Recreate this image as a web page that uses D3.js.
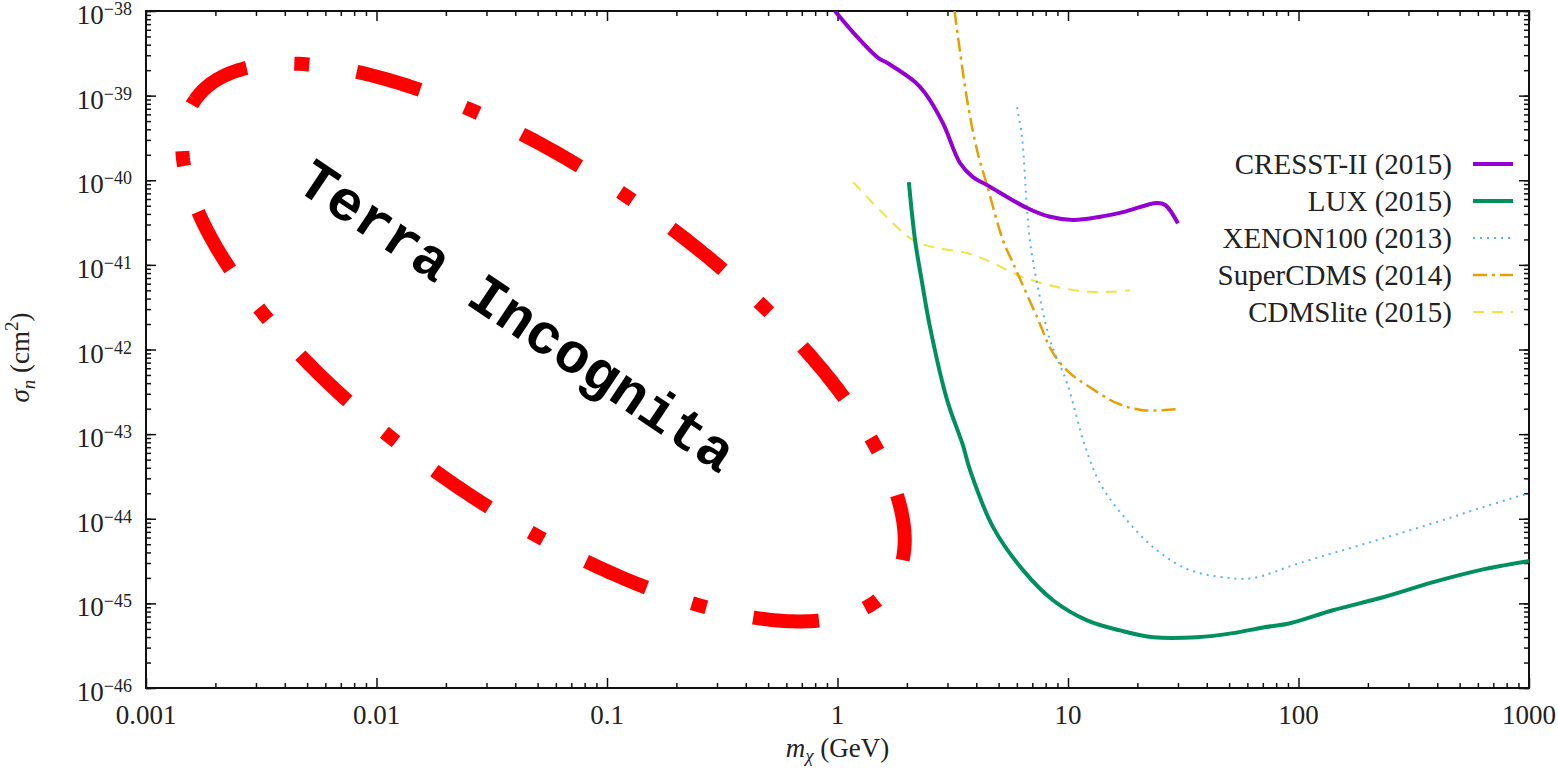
<!DOCTYPE html>
<meta charset="utf-8">
<style>
body { margin: 0; background: #fff; }
text { font-family: "Liberation Serif", "DejaVu Serif", serif; fill: #222; }
.axis path { display: none; }
.axis line { stroke: #111; stroke-width: 1.5; }
.frame { fill: none; stroke: #111; stroke-width: 2; }
</style>
<body>
<script src="https://d3js.org/d3.v7.min.js"></script>
<script>

// ---- data (mass in GeV, cross-section in cm^2) ----
var cresstMass  = [0.975, 1.22, 1.50, 1.66, 2.17, 2.40, 2.87, 3.40, 3.87, 4.45, 6.64, 8.36, 10.5, 13.8, 17.3, 24.3, 26.4, 30.0];
var cresstSigma = [1.0e-38, 4.9e-39, 2.8e-39, 2.4e-39, 1.45e-39, 1.07e-39, 4.7e-40, 1.6e-40, 1.09e-40, 8.8e-41, 4.7e-41, 3.7e-41, 3.4e-41, 3.7e-41, 4.2e-41, 5.4e-41, 5.1e-41, 3.1e-41];

var luxMass  = [2.04, 2.17, 2.33, 2.52, 2.99, 3.50, 3.76, 4.73, 6.38, 8.61, 12.1, 16.8, 23.4, 36.3, 52.0, 70.2, 91.9, 141, 233, 384, 613, 1000];
var luxSigma = [9.5e-41, 1.96e-41, 6.1e-42, 1.84e-42, 2.52e-43, 7.4e-44, 3.75e-44, 7.96e-45, 2.47e-45, 1.09e-45, 6.3e-46, 4.8e-46, 3.98e-46, 3.98e-46, 4.45e-46, 5.2e-46, 5.83e-46, 8.3e-46, 1.18e-45, 1.78e-45, 2.47e-45, 3.16e-45];

var xenonMass  = [6.01, 6.31, 6.64, 6.84, 7.34, 8.36, 9.91, 11.9, 13.8, 18.0, 24.3, 33.8, 50.5, 63.5, 101, 198, 384, 631, 1000];
var xenonSigma = [7.3e-40, 3.3e-40, 4.6e-41, 1.9e-41, 6.1e-42, 1.29e-42, 4.0e-43, 7.0e-44, 2.6e-44, 9.6e-45, 4.25e-45, 2.47e-45, 1.99e-45, 1.99e-45, 2.99e-45, 5.15e-45, 8.87e-45, 1.37e-44, 2.01e-44];

var superMass  = [3.22, 3.65, 4.03, 4.45, 5.22, 5.77, 7.34, 8.61, 10.2, 12.4, 16.3, 21.1, 30.0];
var superSigma = [1.0e-38, 8.9e-40, 2.28e-40, 8.8e-41, 1.96e-41, 1.05e-41, 2.42e-42, 9.06e-43, 5.26e-43, 3.6e-43, 2.32e-43, 1.92e-43, 1.98e-43];

var liteMass  = [1.17, 1.57, 2.13, 2.70, 3.65, 4.73, 6.01, 7.34, 9.51, 12.4, 15.2, 18.6];
var liteSigma = [9.5e-41, 4.1e-41, 1.96e-41, 1.58e-41, 1.38e-41, 1.05e-41, 7.6e-42, 6.3e-42, 5.3e-42, 4.8e-42, 4.8e-42, 5.0e-42];

var seriesNames = ["CRESST-II (2015)", "LUX (2015)", "XENON100 (2013)", "SuperCDMS (2014)", "CDMSlite (2015)"];

var xTicks = [0.001, 0.01, 0.1, 1, 10, 100, 1000];
var xTickLabels = ["0.001", "0.01", "0.1", "1", "10", "100", "1000"];
var yTickExps = [-38, -39, -40, -41, -42, -43, -44, -45, -46];

// "Terra Incognita" annotation: ellipse centre, end of major axis, end of minor axis
var blobCentre = [0.053, 1.21e-42];
var blobMajor  = [1.72, 1.64e-45];
var blobMinor  = [0.138, 5.1e-41];
var blobLabel  = "Terra Incognita";
var blobLabelAt = [0.040, 2.3e-42];

// ---- styles ----
var seriesStyle = [
  {color: "#9400d3", width: 4,   dash: null},
  {color: "#00905f", width: 4,   dash: null},
  {color: "#56b4e9", width: 2,   dash: "2,5"},
  {color: "#e69f00", width: 2.5, dash: "14,5,3,5"},
  {color: "#f0e442", width: 2,   dash: "11,8"}
];

var width = 1558, height = 768;
var margin = {top: 11, right: 29, bottom: 80, left: 146};

var x = d3.scaleLog().domain([1e-3, 1e3]).range([margin.left, width - margin.right]);
var y = d3.scaleLog().domain([1e-46, 1e-38]).range([height - margin.bottom, margin.top]);

var svg = d3.select("body").append("svg")
    .attr("width", width)
    .attr("height", height);

svg.append("clipPath").attr("id", "plotclip")
  .append("rect")
    .attr("x", margin.left).attr("y", margin.top)
    .attr("width", width - margin.left - margin.right)
    .attr("height", height - margin.top - margin.bottom);

// ticks, all pointing inward
var yMajor = yTickExps.map(function(e) { return Math.pow(10, e); });
var xMinor = x.ticks().filter(function(v) { return xTicks.indexOf(v) < 0; });
var yMinor = y.ticks();

function addAxis(axisFn, scale, vals, size, tx, ty) {
  svg.append("g").attr("class", "axis")
    .attr("transform", "translate(" + tx + "," + ty + ")")
    .call(axisFn(scale).tickValues(vals).tickSize(-size).tickFormat(""));
}
var bottomY = height - margin.bottom, rightX = width - margin.right;
addAxis(d3.axisBottom, x, xTicks, 10, 0, bottomY);
addAxis(d3.axisBottom, x, xMinor, 5, 0, bottomY);
addAxis(d3.axisTop, x, xTicks, 10, 0, margin.top);
addAxis(d3.axisTop, x, xMinor, 5, 0, margin.top);
addAxis(d3.axisLeft, y, yMajor, 10, margin.left, 0);
addAxis(d3.axisLeft, y, yMinor, 5, margin.left, 0);
addAxis(d3.axisRight, y, yMajor, 10, rightX, 0);
addAxis(d3.axisRight, y, yMinor, 5, rightX, 0);

svg.append("rect").attr("class", "frame")
  .attr("x", margin.left).attr("y", margin.top)
  .attr("width", rightX - margin.left)
  .attr("height", bottomY - margin.top);

// tick labels
svg.selectAll(".xlab").data(xTicks).enter().append("text")
  .attr("class", "xlab")
  .attr("x", function(d) { return x(d); })
  .attr("y", bottomY + 36)
  .attr("text-anchor", "middle")
  .style("font-size", "27px")
  .text(function(d, i) { return xTickLabels[i]; });

var ylab = svg.selectAll(".ylab").data(yTickExps).enter().append("text")
  .attr("class", "ylab")
  .attr("x", margin.left - 14)
  .attr("y", function(d) { return y(Math.pow(10, d)) + 13; })
  .attr("text-anchor", "end")
  .style("font-size", "27px");
ylab.append("tspan").text("10");
ylab.append("tspan").attr("dy", -9).style("font-size", "18px")
  .text(function(d) { return "\u2212" + Math.abs(d); });

// axis titles
var xt = svg.append("text")
  .attr("x", x(1)).attr("y", 757)
  .attr("text-anchor", "middle")
  .style("font-size", "27px");
xt.append("tspan").style("font-style", "italic").text("m");
xt.append("tspan").attr("dy", 5).style("font-size", "19px").style("font-style", "italic").text("\u03c7");
xt.append("tspan").attr("dy", -5).text(" (GeV)");

var yt = svg.append("text")
  .attr("transform", "translate(29," + ((margin.top + bottomY) / 2 + 8) + ") rotate(-90)")
  .attr("text-anchor", "middle")
  .style("font-size", "27px");
yt.append("tspan").style("font-style", "italic").text("\u03c3");
yt.append("tspan").attr("dy", 6).style("font-size", "19px").style("font-style", "italic").text("n");
yt.append("tspan").attr("dy", -6).text(" (cm");
yt.append("tspan").attr("dy", -11).style("font-size", "19px").text("2");
yt.append("tspan").attr("dy", 11).text(")");

// curves
var allSeries = [
  d3.zip(cresstMass, cresstSigma),
  d3.zip(luxMass, luxSigma),
  d3.zip(xenonMass, xenonSigma),
  d3.zip(superMass, superSigma),
  d3.zip(liteMass, liteSigma)
];

var line = d3.line()
  .x(function(d) { return x(d[0]); })
  .y(function(d) { return y(d[1]); })
  .curve(d3.curveCatmullRom.alpha(0.5));

var plot = svg.append("g").attr("clip-path", "url(#plotclip)");

// draw back to front so CRESST sits on top
[4, 3, 2, 1, 0].forEach(function(i) {
  var s = seriesStyle[i];
  plot.append("path")
    .datum(allSeries[i])
    .attr("d", line)
    .attr("fill", "none")
    .attr("stroke", s.color)
    .attr("stroke-width", s.width)
    .attr("stroke-dasharray", s.dash)
    .attr("stroke-linejoin", "round");
});

// Terra Incognita ellipse
var c = [x(blobCentre[0]), y(blobCentre[1])];
var A = [x(blobMajor[0]) - c[0], y(blobMajor[1]) - c[1]];
var B = [x(blobMinor[0]) - c[0], y(blobMinor[1]) - c[1]];
var ell = d3.range(0, 361).map(function(k) {
  var t = Math.PI - k * Math.PI / 180;
  return [c[0] + Math.cos(t) * A[0] + Math.sin(t) * B[0],
          c[1] + Math.cos(t) * A[1] + Math.sin(t) * B[1]];
});
svg.append("path")
  .attr("d", d3.line()(ell))
  .attr("fill", "none")
  .attr("stroke", "#ff0000")
  .attr("stroke-width", 14)
  .attr("stroke-dasharray", "66,48,15,48")
  .attr("stroke-dashoffset", 4);

var ang = Math.atan2(A[1], A[0]) * 180 / Math.PI - 1;
svg.append("text")
  .attr("transform", "translate(" + x(blobLabelAt[0]) + "," + y(blobLabelAt[1]) + ") rotate(" + ang + ")")
  .attr("text-anchor", "middle")
  .attr("dominant-baseline", "central")
  .style("font-family", "'Liberation Mono', 'DejaVu Sans Mono', monospace")
  .style("font-size", "57px")
  .style("font-weight", "bold")
  .style("fill", "#000")
  .text(blobLabel);

// legend
var leg = svg.selectAll(".leg").data(seriesNames).enter().append("g")
  .attr("class", "leg")
  .attr("transform", function(d, i) { return "translate(0," + (164 + i * 37) + ")"; });
leg.append("text")
  .attr("x", 1452).attr("y", 10)
  .attr("text-anchor", "end")
  .style("font-size", "29px")
  .text(function(d) { return d; });
leg.append("line")
  .attr("x1", 1473).attr("x2", 1513)
  .attr("stroke", function(d, i) { return seriesStyle[i].color; })
  .attr("stroke-width", function(d, i) { return seriesStyle[i].width; })
  .attr("stroke-dasharray", function(d, i) { return seriesStyle[i].dash; });

</script>
